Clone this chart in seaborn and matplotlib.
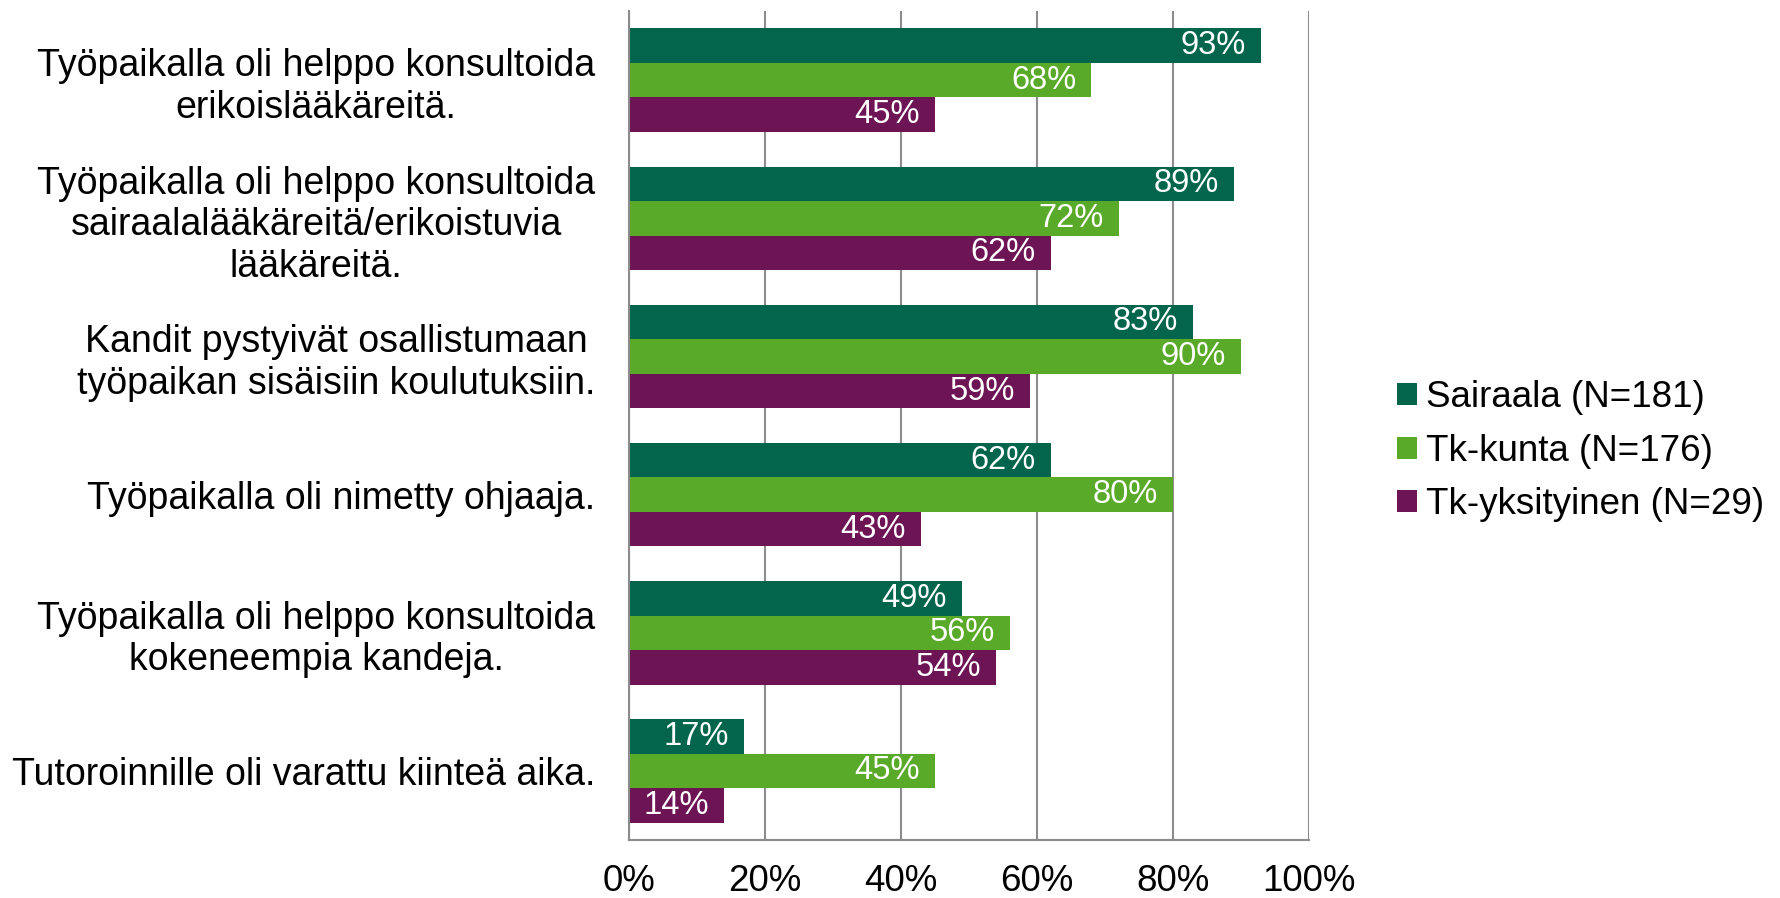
import numpy as np
import pandas as pd
import matplotlib
matplotlib.use("Agg")
import matplotlib.pyplot as plt
from matplotlib.ticker import FixedLocator
import seaborn as sns

# Data
questions = [
    "Työpaikalla oli helppo konsultoida\nerikoislääkäreitä.",
    "Työpaikalla oli helppo konsultoida\nsairaalalääkäreitä/erikoistuvia\nlääkäreitä.",
    "Kandit pystyivät osallistumaan\ntyöpaikan sisäisiin koulutuksiin.",
    "Työpaikalla oli nimetty ohjaaja.",
    "Työpaikalla oli helppo konsultoida\nkokeneempia kandeja.",
    "Tutoroinnille oli varattu kiinteä aika.",
]
groups = ["Sairaala (N=181)", "Tk-kunta (N=176)", "Tk-yksityinen (N=29)"]
sairaala = [93, 89, 83, 62, 49, 17]
tk_kunta = [68, 72, 90, 80, 56, 45]
tk_yksityinen = [45, 62, 59, 43, 54, 14]
colors = ["#02654C", "#5AAA29", "#6D1455"]

df = pd.DataFrame({
    "question": questions * 3,
    "group": [g for g in groups for _ in questions],
    "value": sairaala + tk_kunta + tk_yksityinen,
})
df["share"] = df["value"] / 100

sns.set_style("white")
plt.rcParams["font.family"] = ["Liberation Sans", "DejaVu Sans"]
plt.rcParams["text.color"] = "black"
plt.rcParams["xtick.labelcolor"] = "black"
plt.rcParams["ytick.labelcolor"] = "black"

fig = plt.figure(figsize=(17.81, 8.98), dpi=100)
ax = fig.add_axes([0.353, 0.0646, 0.382, 0.923])

sns.barplot(data=df, x="share", y="question", hue="group", orient="h",
            palette=colors, width=0.75, gap=0, saturation=1, linewidth=0, ax=ax)

# value labels inside the bar ends
for container, vals in zip(ax.containers, [sairaala, tk_kunta, tk_yksityinen]):
    for patch, v in zip(container.patches, vals):
        ax.annotate(f"{v}%", (patch.get_x() + patch.get_width(), patch.get_y() + patch.get_height() / 2),
                    xytext=(-11, 0), textcoords="offset points",
                    ha="right", va="center", color="white", fontsize=23.5)

ax.set_xlim(0, 1)
ax.set_ylim(len(questions) - 0.5, -0.5)
ax.set_xticks(np.arange(0, 1.01, 0.2))
ax.set_xticklabels([f"{int(round(t * 100))}%" for t in np.arange(0, 1.01, 0.2)], fontsize=26.5)
ax.xaxis.grid(True, color="#8C8C8C", linewidth=1.5)
ax.set_axisbelow(True)

# category labels, ticks on the boundaries between groups
ax.set_yticks(range(len(questions)))
ax.set_yticklabels(questions, fontsize=27, multialignment="center")
ax.tick_params(axis="y", length=0, pad=24)
ax.yaxis.set_minor_locator(FixedLocator(np.arange(-0.5, len(questions), 1)))
ax.tick_params(axis="y", which="minor", length=7, width=1.5, color="#8C8C8C", direction="out")
ax.tick_params(axis="x", length=8, width=1.5, color="#8C8C8C", direction="out", pad=9)

for side in ["top", "right"]:
    ax.spines[side].set_visible(False)
for side in ["left", "bottom"]:
    ax.spines[side].set_color("#8C8C8C")
    ax.spines[side].set_linewidth(1.5)

ax.set_xlabel("")
ax.set_ylabel("")

handles, labels = ax.get_legend_handles_labels()
ax.legend(handles, labels, loc="center left", bbox_to_anchor=(1.129, 0.469), frameon=False,
          fontsize=26.5, handlelength=0.55, handleheight=0.55, handletextpad=0.25,
          labelspacing=0.5, borderaxespad=0, borderpad=0)

fig.savefig("out.png", dpi=100)
